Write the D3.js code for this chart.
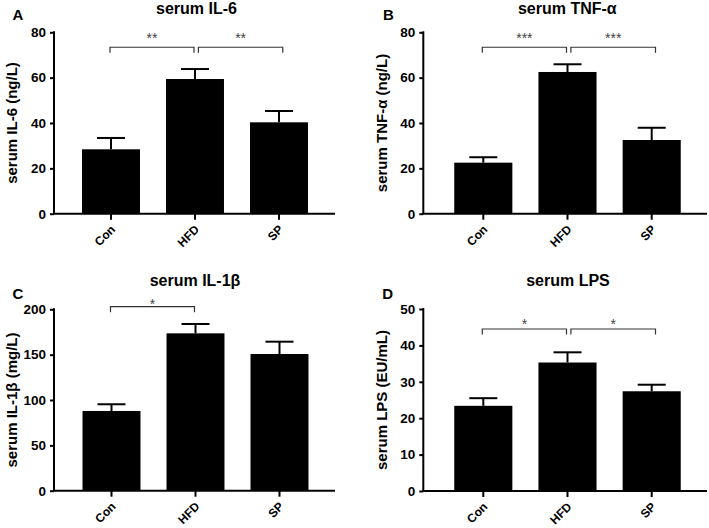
<!DOCTYPE html>
<html>
<head>
<meta charset="utf-8">
<script src="https://cdn.jsdelivr.net/npm/d3@7"></script>
<style>
  html, body { margin: 0; padding: 0; background: #fff; }
  svg { display: block; }
  text { font-family: "Liberation Sans", Arial, Helvetica, sans-serif; font-weight: bold; fill: #000; }
</style>
</head>
<body>
<svg id="chart" width="709" height="528"></svg>
<script>
// ---------------- DATA ----------------
const categories = ["Con", "HFD", "SP"];

const il6Mean = [28.4, 59.4, 40.3];
const il6Err  = [5.0, 4.4, 5.0];
const il6Ticks = [0, 20, 40, 60, 80];
const il6Sig = [{from: "Con", to: "HFD", y: 73.4, label: "**"}, {from: "HFD", to: "SP", y: 73.4, label: "**"}];

const tnfMean = [22.5, 62.5, 32.5];
const tnfErr  = [2.4, 3.4, 5.4];
const tnfTicks = [0, 20, 40, 60, 80];
const tnfSig = [{from: "Con", to: "HFD", y: 73.4, label: "***"}, {from: "HFD", to: "SP", y: 73.4, label: "***"}];

const il1bMean = [87.9, 173.5, 150.7];
const il1bErr  = [7.4, 10.3, 13.6];
const il1bTicks = [0, 50, 100, 150, 200];
const il1bSig = [{from: "Con", to: "HFD", y: 202.9, label: "*"}];

const lpsMean = [23.4, 35.3, 27.4];
const lpsErr  = [2.1, 2.8, 1.8];
const lpsTicks = [0, 10, 20, 30, 40, 50];
const lpsSig = [{from: "Con", to: "HFD", y: 44.5, label: "*"}, {from: "HFD", to: "SP", y: 44.5, label: "*"}];

const panelTitles = ["serum IL-6", "serum TNF-α", "serum IL-1β", "serum LPS"];
const panelLetters = ["A", "B", "C", "D"];
const yLabels = ["serum IL-6 (ng/L)", "serum TNF-α (ng/L)", "serum IL-1β (mg/L)", "serum LPS (EU/mL)"];

// ---------------- LAYOUT ----------------
const panels = [
  {mean: il6Mean, err: il6Err, ticks: il6Ticks, sig: il6Sig, ax: 54, top: 32.3, bottom: 213.7, xEnd: 335, c0: 111, step: 84,
   letterX: 12.5, letterY: 19.5, titleX: 196.5, titleY: 13.5, ylabX: 17, starGap: 4},
  {mean: tnfMean, err: tnfErr, ticks: tnfTicks, sig: tnfSig, ax: 423.3, top: 32.3, bottom: 213.7, xEnd: 707, c0: 483.3, step: 84.2,
   letterX: 383, letterY: 19.5, titleX: 567.3, titleY: 13.5, ylabX: 386.7, starGap: 4},
  {mean: il1bMean, err: il1bErr, ticks: il1bTicks, sig: il1bSig, ax: 54, top: 309.3, bottom: 490.7, xEnd: 335, c0: 111.5, step: 84,
   letterX: 12.5, letterY: 298.5, titleX: 195, titleY: 285.7, ylabX: 17, starGap: -2.5},
  {mean: lpsMean, err: lpsErr, ticks: lpsTicks, sig: lpsSig, ax: 423.3, top: 309, bottom: 491, xEnd: 707, c0: 483.3, step: 84.2,
   letterX: 382.3, letterY: 298.5, titleX: 568, titleY: 286, ylabX: 386.7, starGap: 0}
];

const svg = d3.select("#chart");

panels.forEach((p, i) => {
  const g = svg.append("g");
  const maxV = p.ticks[p.ticks.length - 1];
  const y = d3.scaleLinear().domain([0, maxV]).range([p.bottom, p.top]);
  const x = d3.scaleBand().domain(categories)
    .range([p.c0 - p.step / 2, p.c0 + p.step * 2.5])
    .paddingInner(0.31).paddingOuter(0.155);
  const cx = c => x(c) + x.bandwidth() / 2;

  // bars
  g.selectAll("rect.bar").data(categories).enter().append("rect")
    .attr("class", "bar")
    .attr("x", d => x(d))
    .attr("width", x.bandwidth())
    .attr("y", (d, k) => y(p.mean[k]))
    .attr("height", (d, k) => y(0) - y(p.mean[k]))
    .attr("fill", "#000");

  // error bars (upper only)
  const eb = g.selectAll("g.eb").data(categories).enter().append("g").attr("class", "eb");
  eb.append("line")
    .attr("x1", d => cx(d)).attr("x2", d => cx(d))
    .attr("y1", (d, k) => y(p.mean[k]))
    .attr("y2", (d, k) => y(p.mean[k] + p.err[k]))
    .attr("stroke", "#000").attr("stroke-width", 2);
  eb.append("line")
    .attr("x1", d => cx(d) - 14).attr("x2", d => cx(d) + 14)
    .attr("y1", (d, k) => y(p.mean[k] + p.err[k]))
    .attr("y2", (d, k) => y(p.mean[k] + p.err[k]))
    .attr("stroke", "#000").attr("stroke-width", 2);

  // y axis
  const yAxis = g.append("g").attr("transform", `translate(${p.ax},0)`)
    .call(d3.axisLeft(y).tickValues(p.ticks).tickSize(4).tickSizeOuter(0).tickPadding(4));
  yAxis.attr("font-size", null).attr("font-family", null);
  yAxis.select(".domain").attr("stroke", "#000").attr("stroke-width", 2)
    .attr("d", `M0,${p.top - 1}V${p.bottom}`);
  yAxis.selectAll(".tick line").attr("stroke", "#000").attr("stroke-width", 2);
  yAxis.selectAll(".tick text").style("font-size", "13.5px").attr("fill", "#000");

  // x axis
  const xAxis = g.append("g").attr("transform", `translate(0,${p.bottom})`)
    .call(d3.axisBottom(x).tickSize(6).tickSizeOuter(0));
  xAxis.attr("font-size", null).attr("font-family", null);
  xAxis.select(".domain").attr("stroke", "#000").attr("stroke-width", 2)
    .attr("d", `M${p.ax - 1},0H${p.xEnd}`);
  xAxis.selectAll(".tick line").attr("stroke", "#000").attr("stroke-width", 2);
  xAxis.selectAll(".tick text")
    .attr("x", null).attr("y", null).attr("dy", null)
    .attr("text-anchor", "end")
    .style("font-size", "12px")
    .attr("transform", "translate(5,16.5) rotate(-45)");

  // significance brackets
  p.sig.forEach(s => {
    const first = s.from === categories[0];
    const x1 = first ? cx(s.from) - 1 : cx(s.from) + 3.4;
    const x2 = first ? cx(s.to) - 1 : cx(s.to) + 3.8;
    const by = y(s.y);
    g.append("path")
      .attr("d", `M${x1},${by + 5.5}V${by}H${x2}V${by + 5.5}`)
      .attr("fill", "none").attr("stroke", "#333").attr("stroke-width", 1.2);
    g.append("text")
      .attr("x", (x1 + x2) / 2).attr("y", by - p.starGap)
      .attr("text-anchor", "middle")
      .style("font-size", "14px").style("font-weight", "normal").style("fill", "#444")
      .text(s.label);
  });

  // title
  g.append("text").attr("x", p.titleX).attr("y", p.titleY)
    .attr("text-anchor", "middle").style("font-size", "16px").text(panelTitles[i]);
  // letter
  g.append("text").attr("x", p.letterX).attr("y", p.letterY)
    .style("font-size", "15px").text(panelLetters[i]);
  // y label
  g.append("text")
    .attr("transform", `translate(${p.ylabX},${(p.top + p.bottom) / 2}) rotate(-90)`)
    .attr("text-anchor", "middle").style("font-size", "15px").text(yLabels[i]);
});
</script>
</body>
</html>
